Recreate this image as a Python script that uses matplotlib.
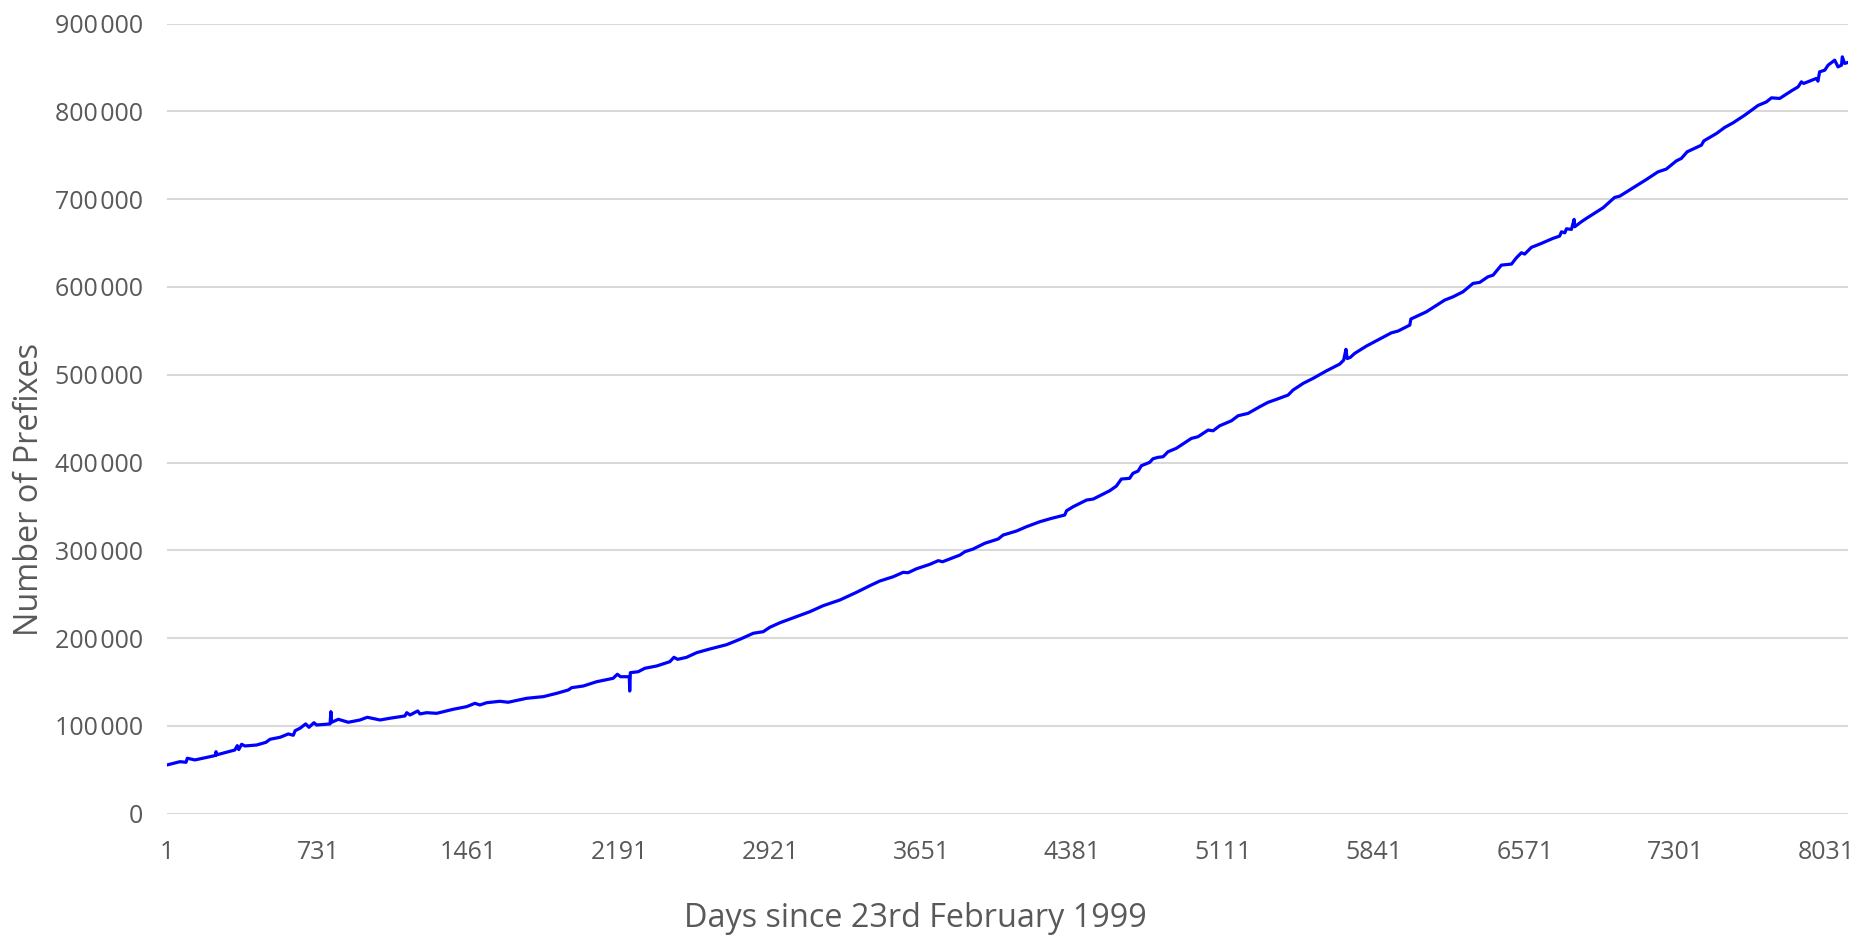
import matplotlib.pyplot as plt
from matplotlib.ticker import FuncFormatter

# values
days = [1, 64, 93, 99, 136, 225, 236, 238, 240, 329, 341, 348, 362, 378, 435, 480, 499,
        548, 588, 612, 621, 644, 672, 688, 712, 725, 790, 794, 797, 830, 878, 935, 970,
        1032, 1080, 1152, 1161, 1177, 1214, 1225, 1257, 1306, 1386, 1451, 1491, 1515,
        1548, 1612, 1652, 1741, 1822, 1887, 1943, 1959, 2015, 2080, 2160, 2180, 2196,
        2238, 2240, 2243, 2281, 2313, 2370, 2434, 2454, 2472, 2515, 2564, 2628, 2709,
        2773, 2838, 2886, 2918, 2967, 3047, 3112, 3176, 3257, 3338, 3402, 3450, 3515,
        3563, 3587, 3628, 3692, 3733, 3754, 3838, 3862, 3902, 3958, 4023, 4047, 4112,
        4160, 4225, 4281, 4345, 4354, 4386, 4451, 4483, 4563, 4595, 4619, 4659, 4675,
        4700, 4716, 4756, 4772, 4796, 4821, 4845, 4885, 4958, 4990, 5039, 5063, 5095,
        5152, 5184, 5232, 5289, 5329, 5370, 5426, 5450, 5499, 5547, 5612, 5676, 5695,
        5706, 5712, 5727, 5748, 5805, 5853, 5926, 5958, 6015, 6020, 6095, 6184, 6224,
        6272, 6321, 6353, 6393, 6418, 6458, 6507, 6531, 6555, 6571, 6603, 6652, 6708,
        6740, 6749, 6765, 6773, 6797, 6810, 6813, 6845, 6869, 6950, 6982, 7006, 7031,
        7160, 7216, 7256, 7305, 7329, 7357, 7426, 7438, 7499, 7539, 7579, 7636, 7700,
        7741, 7765, 7805, 7862, 7894, 7910, 7921, 7982, 7990, 7998, 8023, 8039, 8071,
        8087, 8104, 8108, 8119, 8135]
prefixes = [55500, 59200, 58500, 63100, 61200, 65700, 66500, 70600, 66900, 72500, 77500,
            73000, 79000, 77100, 78200, 81300, 84700, 87000, 90800, 89300, 94500, 97200,
            102200, 98400, 103600, 101000, 102200, 116200, 104000, 107500, 104100, 106700,
            109800, 106700, 108700, 111300, 115000, 112400, 117000, 113600, 115000, 114300,
            118900, 121900, 125700, 123800, 126400, 128000, 126900, 131400, 133300, 137100,
            140900, 143500, 145400, 150300, 154200, 158800, 156000, 156000, 139700, 160600,
            161700, 165600, 168200, 173100, 178100, 175800, 178100, 183400, 187600, 192500,
            198600, 205500, 207300, 212300, 217500, 224400, 230100, 236900, 243400, 252200,
            259700, 265000, 269900, 274900, 274500, 279000, 284000, 288200, 287000, 294600,
            298400, 301500, 308000, 312900, 317400, 322000, 326900, 332600, 336400, 340200,
            345100, 349700, 357300, 358400, 367900, 373200, 381200, 382000, 387700, 390300,
            396400, 400200, 404300, 405900, 406600, 412300, 416200, 427500, 429400, 437000,
            436200, 441900, 447600, 453300, 456000, 463600, 468600, 472000, 476900, 482600,
            490200, 495900, 504500, 512200, 516700, 529000, 518500, 519800, 524300, 532700,
            538700, 547800, 549800, 556600, 563500, 571700, 585100, 588800, 594500, 604100,
            605200, 611600, 613500, 624900, 626100, 633300, 639000, 637500, 645100, 649700,
            655400, 658000, 662900, 661700, 666300, 665600, 677000, 668600, 674300, 678100,
            690200, 697000, 702000, 703500, 722500, 731200, 734300, 743700, 746500, 754000,
            761600, 766500, 774900, 781800, 787000, 795800, 806800, 810900, 815500, 814800,
            823500, 828000, 833700, 831900, 837600, 834500, 845100, 847000, 852700, 858400,
            850800, 852700, 862200, 854700, 855800]
xticks = [1, 731, 1461, 2191, 2921, 3651, 4381, 5111, 5841, 6571, 7301, 8031]
yticks = [0, 100000, 200000, 300000, 400000, 500000, 600000, 700000, 800000, 900000]

plt.rcParams['font.family'] = ['Open Sans', 'DejaVu Sans']
grey = '#595959'

fig = plt.figure(figsize=(18.6, 9.39), dpi=100)
ax = fig.add_axes([0.0898, 0.1335, 0.9037, 0.8413])

ax.plot(days, prefixes, color='#0000ff', linewidth=2.3, zorder=3)

ax.set_xlim(1, 8135)
ax.set_ylim(0, 900000)
ax.set_xticks(xticks)
ax.set_yticks(yticks)
ax.yaxis.set_major_formatter(FuncFormatter(lambda v, p: f"{int(v):,}".replace(",", "\u200a")))
ax.grid(True, axis='y', color='#d9d9d9', linewidth=1.5, zorder=0)
ax.tick_params(length=0, labelsize=18, labelcolor=grey)
ax.tick_params(axis='y', pad=17)
ax.tick_params(axis='x', pad=19)
for s in ax.spines.values():
    s.set_visible(False)

fig.text(0.492, 0.022, 'Days since 23rd February 1999', fontsize=23.3, color=grey,
         ha='center', va='center')
fig.text(0.016, 0.479, 'Number of Prefixes', fontsize=23.4, color=grey,
         ha='center', va='center', rotation=90)

fig.savefig('out.png', dpi=100)
